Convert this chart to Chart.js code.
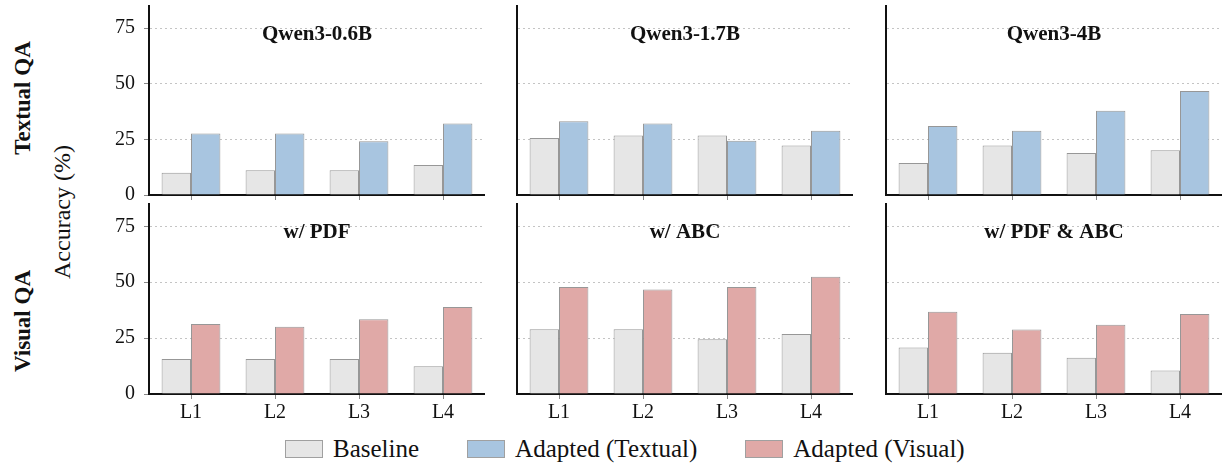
<!DOCTYPE html>
<html>
<head>
<meta charset="utf-8">
<script src="https://cdn.jsdelivr.net/npm/chart.js@4"></script>
<style>
  body { margin: 0; width: 1222px; height: 464px; background: #fff; overflow: hidden; position: relative; font-family: 'Liberation Serif', 'Times New Roman', Times, 'DejaVu Serif', serif; color: #111; }
  canvas { position: absolute; }
  .rowlab { position: absolute; font-weight: bold; font-size: 23px; white-space: nowrap; transform: translate(-50%, -50%) rotate(-90deg); }
  .ylab { position: absolute; font-size: 24px; white-space: nowrap; transform: translate(-50%, -50%) rotate(-90deg); }
  #legend { position: absolute; left: 285px; top: 435px; display: flex; align-items: center; font-size: 25px; }
  .item { display: flex; align-items: center; margin-right: 48px; }
  .box { width: 36px; height: 16px; border: 1px solid #a0a0a0; margin-right: 10px; }
</style>
</head>
<body>
<div class="rowlab" style="left:23px; top:98px;">Textual QA</div>
<div class="rowlab" style="left:23px; top:321px;">Visual QA</div>
<div class="ylab" style="left:62px; top:212px;">Accuracy (%)</div>
<div id="legend">
  <div class="item"><div class="box" style="background:#e6e6e6"></div>Baseline</div>
  <div class="item"><div class="box" style="background:#a8c5e0"></div>Adapted (Textual)</div>
  <div class="item"><div class="box" style="background:#e0a9a7"></div>Adapted (Visual)</div>
</div>
<script>
// categories
const levels = ['L1', 'L2', 'L3', 'L4'];
const yTicks = [0, 25, 50, 75];

// top row: textual QA, per model
const titlesTop = ['Qwen3-0.6B', 'Qwen3-1.7B', 'Qwen3-4B'];
const baseTop = [
  [10.0, 11.1, 11.1, 13.5],
  [25.6, 26.8, 26.8, 22.3],
  [14.4, 22.3, 18.9, 20.1]
];
const textualTop = [
  [27.7, 27.7, 24.2, 32.2],
  [33.2, 32.2, 24.4, 28.9],
  [31.0, 28.9, 37.9, 46.8]
];

// bottom row: visual QA, per setting
const titlesBottom = ['w/ PDF', 'w/ ABC', 'w/ PDF & ABC'];
const baseBottom = [
  [15.7, 15.7, 15.7, 12.4],
  [29.0, 29.0, 24.5, 26.8],
  [20.8, 18.5, 16.2, 10.5]
];
const visualBottom = [
  [31.3, 30.1, 33.4, 38.9],
  [47.9, 46.8, 47.9, 52.4],
  [36.8, 28.9, 31.0, 35.8]
];

const FONT = "'Liberation Serif', 'Times New Roman', Times, 'DejaVu Serif', serif";
const colBase = '#e6e6e6';
const colTextual = '#a8c5e0';
const colVisual = '#e0a9a7';
const edge = 'rgba(140,140,140,0.9)';

const axisX = [149, 517, 886];
const panelW = 336;

// draws the panel title inside the plot area
const innerTitle = {
  id: 'innerTitle',
  afterDraw(chart, args, opts) {
    const { ctx, chartArea } = chart;
    ctx.save();
    ctx.font = 'bold 21px ' + FONT;
    ctx.fillStyle = '#111';
    ctx.textAlign = 'center';
    ctx.textBaseline = 'middle';
    ctx.fillText(opts.text, (chartArea.left + chartArea.right) / 2, chartArea.top + 29);
    ctx.restore();
  }
};

function makePanel(col, row, title, base, adapted, adaptedLabel, adaptedColor) {
  const canvas = document.createElement('canvas');
  const topPad = row === 0 ? 6 : 8;
  const areaH = row === 0 ? 189 : 190;
  const xH = row === 0 ? 10 : 30;
  const w = 50 + panelW;
  const h = topPad + areaH + xH;
  canvas.width = w;
  canvas.height = h;
  canvas.style.left = (axisX[col] - 50) + 'px';
  canvas.style.top = (row === 0 ? 0 : 196) + 'px';
  document.body.appendChild(canvas);

  const leftCol = col === 0;
  const bottomRow = row === 1;

  new Chart(canvas.getContext('2d'), {
    type: 'bar',
    data: {
      labels: levels,
      datasets: [
        { label: 'Baseline', data: base, backgroundColor: colBase, borderColor: edge, borderWidth: 1 },
        { label: adaptedLabel, data: adapted, backgroundColor: adaptedColor, borderColor: edge, borderWidth: 1 }
      ]
    },
    options: {
      responsive: false,
      animation: false,
      events: [],
      layout: { padding: { top: topPad, left: 0, right: 0, bottom: 0 } },
      datasets: { bar: { categoryPercentage: 0.7, barPercentage: 1.0 } },
      plugins: {
        legend: { display: false },
        tooltip: { enabled: false },
        innerTitle: { text: title }
      },
      scales: {
        x: {
          offset: true,
          grid: { display: true, drawOnChartArea: false, offset: false, drawTicks: true, tickLength: 5, tickColor: '#888', lineWidth: 1 },
          border: { display: true, color: '#111', width: 2 },
          ticks: { display: bottomRow, color: '#111', font: { family: FONT, size: 20 }, padding: 2, maxRotation: 0 },
          afterFit: (s) => { s.height = xH; s.paddingLeft = 0; s.paddingRight = 0; }
        },
        y: {
          min: 0,
          max: 85,
          afterBuildTicks: (s) => { s.ticks = yTicks.map(v => ({ value: v })); },
          grid: {
            color: (c) => (c.tick && c.tick.value === 0) ? 'rgba(0,0,0,0)' : '#c4c4c4',
            lineWidth: 1,
            drawTicks: leftCol,
            tickLength: 5,
            tickColor: '#888',
            tickBorderDash: []
          },
          border: { display: true, color: '#111', width: 2, dash: [2, 3] },
          ticks: { display: leftCol, color: '#111', font: { family: FONT, size: 20 }, padding: 9 },
          afterFit: (s) => { s.width = 50; s.paddingTop = 0; s.paddingBottom = 0; }
        }
      }
    },
    plugins: [innerTitle]
  });
}

for (let c = 0; c < 3; c++) {
  makePanel(c, 0, titlesTop[c], baseTop[c], textualTop[c], 'Adapted (Textual)', colTextual);
}
for (let c = 0; c < 3; c++) {
  makePanel(c, 1, titlesBottom[c], baseBottom[c], visualBottom[c], 'Adapted (Visual)', colVisual);
}
</script>
</body>
</html>
